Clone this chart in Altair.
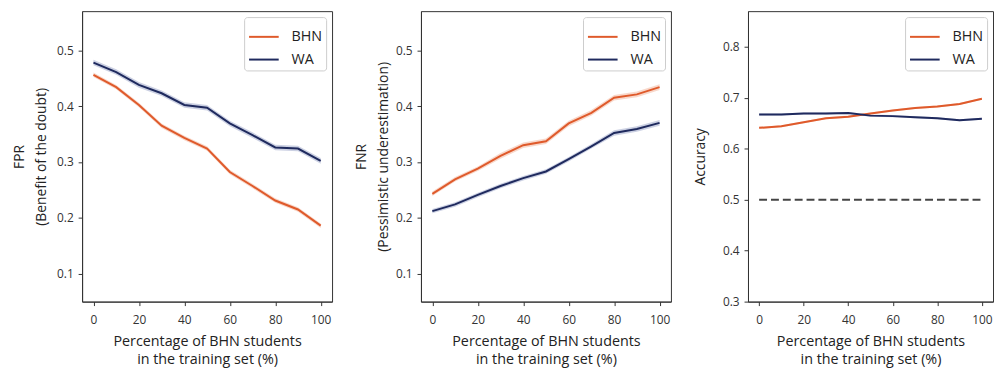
import altair as alt
import pandas as pd

# ---- data ----
pct = [0, 10, 20, 30, 40, 50, 60, 70, 80, 90, 100]
groups = ["BHN", "WA"]

fpr_bhn = [0.456, 0.434, 0.402, 0.365, 0.343, 0.324, 0.282, 0.257, 0.231, 0.215, 0.186]
fpr_wa = [0.478, 0.461, 0.438, 0.423, 0.402, 0.397, 0.369, 0.348, 0.326, 0.324, 0.302]
fpr_bhn_ci = [0.004, 0.004, 0.004, 0.004, 0.004, 0.004, 0.004, 0.004, 0.004, 0.004, 0.004]
fpr_wa_ci = [0.005, 0.005, 0.005, 0.005, 0.005, 0.005, 0.005, 0.005, 0.005, 0.005, 0.005]

fnr_bhn = [0.243, 0.269, 0.288, 0.311, 0.330, 0.337, 0.369, 0.388, 0.415, 0.421, 0.434]
fnr_wa = [0.212, 0.224, 0.241, 0.257, 0.271, 0.283, 0.305, 0.328, 0.352, 0.359, 0.370]
fnr_bhn_ci = [0.004, 0.004, 0.004, 0.005, 0.005, 0.005, 0.005, 0.005, 0.005, 0.005, 0.005]
fnr_wa_ci = [0.004, 0.004, 0.004, 0.004, 0.004, 0.004, 0.004, 0.004, 0.005, 0.005, 0.005]

acc_bhn = [0.641, 0.644, 0.652, 0.660, 0.663, 0.669, 0.675, 0.680, 0.683, 0.688, 0.698]
acc_wa = [0.667, 0.667, 0.669, 0.669, 0.670, 0.665, 0.664, 0.662, 0.660, 0.656, 0.659]
acc_bhn_ci = [0.002, 0.002, 0.002, 0.002, 0.002, 0.002, 0.002, 0.002, 0.002, 0.002, 0.002]
acc_wa_ci = [0.002, 0.002, 0.002, 0.002, 0.002, 0.002, 0.002, 0.002, 0.002, 0.002, 0.002]

chance_x = [0, 100]
chance_y = [0.5, 0.5]

x_ticks = [0, 20, 40, 60, 80, 100]
y_ticks_rate = [0.1, 0.2, 0.3, 0.4, 0.5]
y_ticks_acc = [0.3, 0.4, 0.5, 0.6, 0.7, 0.8]

x_title = ["Percentage of BHN students", "in the training set  (%)"]

ORANGE = "#df5a2b"
NAVY = "#1f2a5e"
BAND = {"BHN": "#f0a88c", "WA": "#8e9ac0"}

FONT = "Open Sans"
W, H = 253, 294


def panel(bhn, wa, bhn_ci, wa_ci, ytitle, ydomain, yticks, title_pad, chance=False):
    rows = []
    for g, vals, ci in (("BHN", bhn, bhn_ci), ("WA", wa, wa_ci)):
        for xv, v, c in zip(pct, vals, ci):
            rows.append({"x": xv, "value": v, "lo": v - c, "hi": v + c, "group": g})
    df = pd.DataFrame(rows)

    xenc = alt.X(
        "x:Q",
        scale=alt.Scale(domain=[-5, 105], nice=False, zero=False),
        axis=alt.Axis(values=x_ticks, title=x_title, grid=False, format="d",
                      labelPadding=9, titlePadding=9, titleFontSize=14.5,
                      titleLineHeight=19),
    )
    yscale = alt.Scale(domain=ydomain, nice=False, zero=False)
    yaxis = alt.Axis(values=yticks, title=ytitle, grid=False, format=".1f",
                     labelPadding=5, titlePadding=title_pad,
                     titleFontSize=14, titleLineHeight=22)

    base = alt.Chart(df)
    layers = []
    for g in groups:
        layers.append(
            base.transform_filter(alt.datum.group == g)
            .mark_area(opacity=0.45, color=BAND[g])
            .encode(x=xenc, y=alt.Y("lo:Q", scale=yscale, axis=yaxis), y2="hi:Q")
        )
    if chance:
        cdf = pd.DataFrame({"x": chance_x, "value": chance_y})
        layers.append(
            alt.Chart(cdf)
            .mark_line(color="#444444", strokeWidth=2, strokeDash=[8, 4])
            .encode(x=xenc, y=alt.Y("value:Q", scale=yscale, axis=yaxis))
        )
    layers.append(
        base.mark_line(strokeWidth=2).encode(
            x=xenc,
            y=alt.Y("value:Q", scale=yscale, axis=yaxis),
            color=alt.Color(
                "group:N",
                scale=alt.Scale(domain=groups, range=[ORANGE, NAVY]),
                legend=alt.Legend(
                    title=None, orient="top-right", symbolType="stroke",
                    symbolSize=900, symbolStrokeWidth=2, labelFontSize=14.5,
                    labelFont=FONT, labelColor="#222222",
                    strokeColor="#cccccc", fillColor="white", cornerRadius=3,
                    padding=4, offset=6, rowPadding=0, labelOffset=12,
                ),
            ),
        )
    )
    return alt.layer(*layers).properties(width=W, height=H)


p1 = panel(fpr_bhn, fpr_wa, fpr_bhn_ci, fpr_wa_ci,
           ["FPR", "(Benefit of the doubt)"], [0.05, 0.57], y_ticks_rate, 8)
p2 = panel(fnr_bhn, fnr_wa, fnr_bhn_ci, fnr_wa_ci,
           ["FNR", "(Pessimistic underestimation)"], [0.05, 0.57], y_ticks_rate, 5)
p3 = panel(acc_bhn, acc_wa, acc_bhn_ci, acc_wa_ci,
           "Accuracy", [0.3, 0.87], y_ticks_acc, 15, chance=True).properties(width=248)

chart = (
    alt.hconcat(p1, p2, p3, spacing=21)
    .resolve_legend(color="independent")
    .resolve_scale(color="independent", y="independent")
    .properties(padding={"left": 4, "top": 0, "right": 0, "bottom": 0})
    .configure_view(stroke="#333333", strokeWidth=1)
    .configure_axis(
        domainColor="#333333", tickColor="#333333", tickSize=4,
        labelColor="#333333", labelFontSize=12, labelFont=FONT,
        titleFont=FONT, titleFontWeight="normal", titleColor="#222222",
    )
)

chart.save("out.html", embed_options={"renderer": "svg", "actions": False})
